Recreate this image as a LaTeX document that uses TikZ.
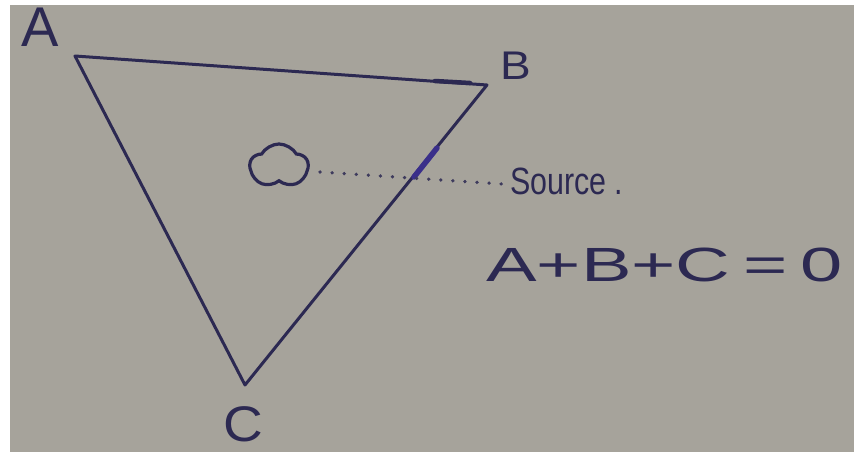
\documentclass[tikz,border=0pt]{standalone}
\usepackage{fontspec}
\setmainfont{Liberation Sans}
\usepackage{graphicx}
\usetikzlibrary{shapes.symbols,arrows.meta}
\definecolor{paper}{HTML}{A6A39B}
\definecolor{ink}{HTML}{2C2952}
\definecolor{inkblue}{HTML}{3A2F8A}
\tikzset{
  edge/.style={draw=ink,line width=3pt,line cap=round,line join=round},
  lbl/.style={text=ink,inner sep=0pt,anchor=center},
  dots/.style={draw=ink!85!paper,line width=3.6pt,line cap=round,dash pattern=on 0.1pt off 12pt}
}
\begin{document}
\begin{tikzpicture}[x=1pt,y=-1pt]
\useasboundingbox (0,0) rectangle (854,452);
\fill[white] (0,0) rectangle (854,452);
\fill[paper] (10,5) rectangle (854,452);
% vertices
\coordinate (A) at (75,56);
\coordinate (B) at (487,85);
\coordinate (C) at (245,385);
\draw[edge] (A) -- (B) -- (C) -- cycle;
% arrow marks
\coordinate (ab1) at (435,81);
\coordinate (ab2) at (470,83);
\draw[draw=ink,line width=4.5pt,line cap=round] (ab1) -- (ab2);
\coordinate (bc1) at (437,148);
\coordinate (bc2) at (414,177);
\draw[draw=inkblue,line width=5.5pt,line cap=round] (bc1) -- (bc2);
% labels
\node[lbl,font=\fontsize{56}{56}\selectfont] (la) at (40,27) {A};
\node[lbl,font=\fontsize{40}{40}\selectfont] (lb) at (516,66) {\scalebox{1.15}[1]{B}};
\node[lbl,font=\fontsize{50}{50}\selectfont] (lc) at (243,424) {\scalebox{1.1}[1]{C}};
% source symbol
\node[cloud,cloud puffs=5,cloud puff arc=120,aspect=1.3,draw=ink,line width=3.2pt,minimum width=58pt,minimum height=44pt,inner sep=0pt] (src) at (279,166) {};
\coordinate (d1) at (320,172);
\coordinate (d2) at (502,184);
\draw[dots] (d1) -- (d2);
\node[lbl,anchor=west,font=\fontsize{38}{38}\selectfont] (stext) at (510,181) {\scalebox{0.8}[1]{Source .}};
\node[lbl,anchor=west,font=\fontsize{48}{48}\selectfont] (eq) at (486,265) {\scalebox{1.58}[1]{A+B+C\,=\,0}};
\end{tikzpicture}
\end{document}
